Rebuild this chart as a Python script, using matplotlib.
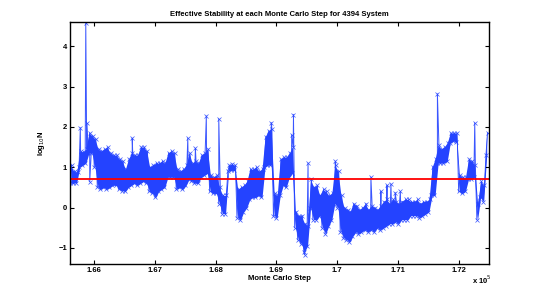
import numpy as np
import matplotlib

matplotlib.use("Agg")
import matplotlib.pyplot as plt  # noqa: E402

plt.rcParams["font.family"] = ["Liberation Sans", "DejaVu Sans"]

# шаг Монте-Карло: отсчёты через 50 шагов, для каждого — нижняя и верхняя граница полосы
steps = np.arange(165600, 172500, 50)

lo = [0.60, 0.60, 0.62, 1.00, 1.05, 1.10, 1.35, 1.35, 1.00, 0.50,
      0.45, 0.50, 0.45, 0.50, 0.55, 0.55, 0.45, 0.42, 0.40, 0.50,
      0.55, 0.60, 0.55, 0.60, 0.65, 0.60, 0.40, 0.35, 0.25, 0.40,
      0.45, 0.50, 0.75, 0.75, 0.75, 0.45, 0.50, 0.45, 0.55, 0.70,
      0.65, 0.60, 0.60, 0.75, 0.80, 0.85, 0.40, 0.35, 0.35, 0.10,
      -0.15, -0.15, 0.90, 0.92, 0.92, -0.25, -0.30, -0.10, 0.00, 0.20,
      0.25, 0.25, 0.30, 0.25, 1.00, 1.05, 1.05, -0.20, -0.25, 0.30,
      0.55, 0.50, 0.75, 0.85, -0.50, -0.80, -0.90, -1.10, -0.95, 0.00,
      -0.30, -0.30, -0.20, -0.50, -0.65, -0.45, -0.30, 0.10, 0.00, -0.60,
      -0.75, -0.80, -0.85, -0.70, -0.60, -0.65, -0.60, -0.55, -0.60, -0.55,
      -0.60, -0.50, -0.55, -0.50, -0.45, -0.40, -0.40, -0.35, -0.40, -0.30,
      -0.30, -0.30, -0.20, -0.20, -0.20, -0.25, -0.20, -0.15, -0.10, 0.30,
      0.30, 1.10, 1.10, 1.10, 1.15, 1.60, 1.65, 1.62, 0.40, 0.35,
      0.40, 0.70, 0.70, 0.75, -0.30, 0.25, 0.15, 1.30]

hi = [1.05, 0.90, 0.88, 1.40, 1.38, 1.45, 1.85, 1.78, 1.70, 1.45,
      1.40, 1.45, 1.50, 1.35, 1.30, 1.30, 1.20, 1.15, 0.95, 1.20,
      1.35, 1.30, 1.30, 1.50, 1.50, 1.40, 1.00, 1.05, 1.10, 1.10,
      1.15, 1.10, 1.35, 1.40, 1.35, 0.95, 0.90, 0.95, 1.05, 1.35,
      1.10, 1.15, 1.10, 1.30, 1.35, 1.45, 0.80, 0.75, 0.80, 0.50,
      0.30, 0.30, 1.05, 1.08, 1.05, 0.45, 0.50, 0.55, 0.65, 0.95,
      0.95, 1.00, 0.90, 0.95, 1.75, 1.90, 1.95, 0.35, 0.30, 1.20,
      1.25, 1.25, 1.35, 1.50, -0.10, -0.20, -0.20, -0.40, -0.45, 0.70,
      0.50, 0.55, 0.30, 0.45, 0.40, 0.30, 0.35, 1.05, 0.90, 0.30,
      0.00, -0.05, -0.10, 0.10, 0.05, -0.05, 0.00, 0.10, -0.05, 0.05,
      0.00, -0.05, 0.05, 0.15, 0.20, 0.10, 0.20, 0.15, 0.10, 0.15,
      0.20, 0.20, 0.15, 0.15, 0.20, 0.10, 0.15, 0.15, 0.20, 1.00,
      1.20, 1.55, 1.45, 1.50, 1.60, 1.85, 1.85, 1.85, 0.80, 0.75,
      0.75, 1.20, 1.15, 1.05, 0.10, 0.65, 0.55, 1.85]

# отдельные выбросы
spike_steps = [165770, 165860, 165880, 165925, 166625, 167540, 167665,
               167845, 168050, 168915, 169250, 169280, 169465, 169520,
               169970, 170555, 170720, 170820, 170885, 170955, 171040,
               171650, 172265]
spike_vals = [1.98, 4.57, 2.09, 0.64, 1.72, 1.72, 1.47,
              2.27, 2.20, 2.10, 1.80, 2.30, -1.17, 1.10,
              1.15, 0.75, 0.40, 0.55, 0.58, 0.37, 0.40,
              2.82, 2.10]

threshold = np.log10(5)
blue = "#2443ff"

# ломаная: низ в начале отсчёта, верх в середине, выбросы на своих местах
x = np.concatenate([steps, steps + 25, spike_steps])
y = np.concatenate([lo, hi, spike_vals])
order = np.argsort(x, kind="stable")
x, y = x[order], y[order]

fig = plt.figure(figsize=(5.4, 2.97), dpi=100)
ax = fig.add_axes([0.1296, 0.111, 0.776, 0.815])

# плотная полоса значений (в оригинале тысячи точек сливаются в сплошную заливку)
ax.fill_between(steps + 12, lo, hi, color=blue, linewidth=0)
ax.plot(x, y, color=blue, linewidth=0.7, marker="x",
        markersize=2.2, markeredgewidth=0.5, alpha=0.9)
ax.axhline(threshold, color="red", linewidth=1.3)

ax.set_xlim(165600, 172500)
ax.set_ylim(-1.4, 4.6)

xticks = [166000, 167000, 168000, 169000, 170000, 171000, 172000]
xticklabels = ["1.66", "1.67", "1.68", "1.69", "1.7", "1.71", "1.72"]
ax.set_xticks(xticks)
ax.set_xticklabels(xticklabels)
ax.set_yticks([-1, 0, 1, 2, 3, 4])

ax.tick_params(direction="in", length=3, width=0.8, labelsize=5.5,
               top=True, right=True, pad=2)
for lab in ax.get_xticklabels() + ax.get_yticklabels():
    lab.set_fontweight("bold")
for sp in ax.spines.values():
    sp.set_linewidth(1.0)

ax.set_title("Effective Stability at each Monte Carlo Step for 4394 System",
             fontsize=5.5, fontweight="bold", pad=4)
ax.set_xlabel("Monte Carlo Step", fontsize=5.5, fontweight="bold", labelpad=1)
ax.set_ylabel("log$_{10}$N", fontsize=5.5, fontweight="bold", labelpad=8)
fig.text(0.874, 0.045, "x 10$^5$", fontsize=5.5, fontweight="bold")

fig.savefig("out.png", dpi=100)
